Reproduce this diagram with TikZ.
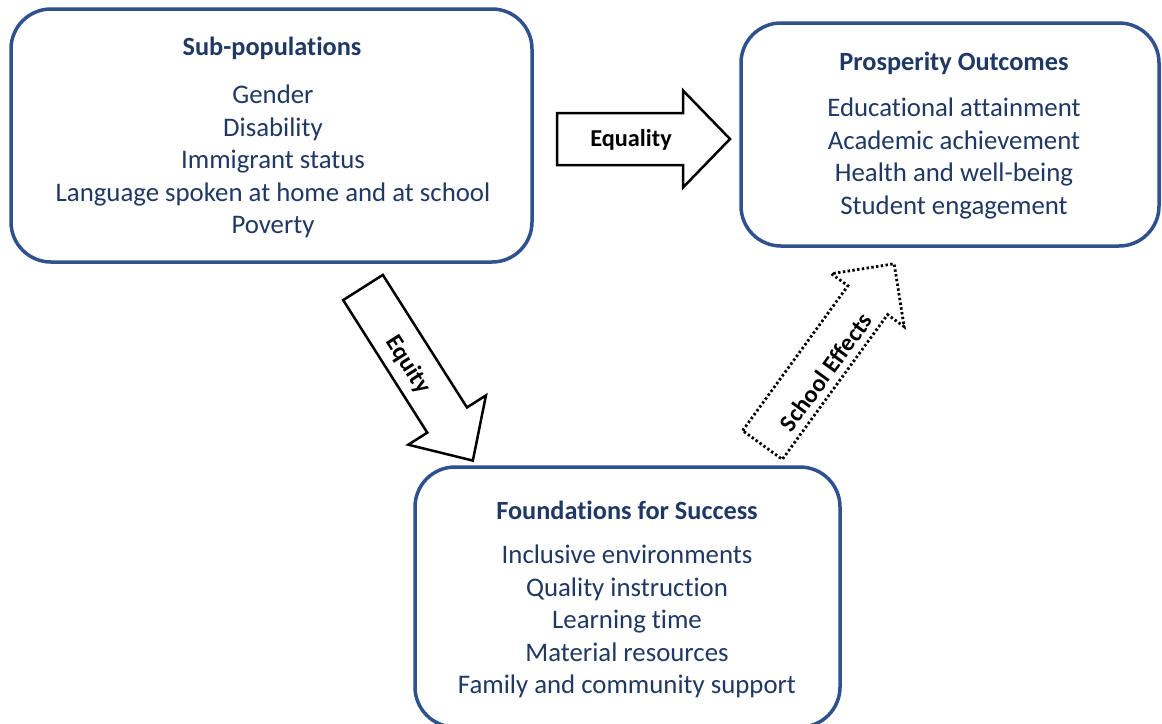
\documentclass[tikz,border=0pt]{standalone}
\usepackage{fontspec}
\setmainfont{Carlito}[RawFeature=-liga]
\definecolor{boxblue}{RGB}{47,82,143}
\definecolor{navy}{RGB}{31,56,100}
\tikzset{
  panel/.style={draw=boxblue, line width=3.5pt, rounded corners=40pt, fill=white, inner sep=0pt},
  heading/.style={text=navy, font=\fontsize{26.3}{30}\selectfont\bfseries, inner sep=0pt},
  items/.style={text=navy, font=\fontsize{26.8}{32.6}\selectfont, align=center, inner sep=0pt},
  blockarrow/.style={draw=black, line width=2.5pt, fill=white, line join=miter},
  dottedarrow/.style={draw=black, line width=2.8pt, fill=white, dash pattern=on 2.4pt off 2.4pt},
  arrowlabel/.style={text=black, font=\fontsize{24.3}{28}\selectfont\bfseries, inner sep=0pt}
}
\newcommand{\arrowpath}[4]{(0,-#1) -- (#3-#4,-#1) -- (#3-#4,-#2) -- (#3,0) -- (#3-#4,#2) -- (#3-#4,#1) -- (0,#1) -- cycle}
\begin{document}
\begin{tikzpicture}[x=1pt,y=-1pt]
\useasboundingbox (0,0) rectangle (1162,723);
\begin{scope}
\clip (0,0) rectangle (1162,723);
% boxes
\node[panel, minimum width=521pt, minimum height=253pt] (b1) at (271.5,135.5) {};
\node[panel, minimum width=418pt, minimum height=223pt] (b2) at (950,134.5) {};
\node[panel, minimum width=425pt, minimum height=260pt] (b3) at (627.5,597) {};
\end{scope}
% texts
\node[heading] (h1) at (272,48) {Sub-populations};
\node[items] (l1) at (273,161.5) {Gender\\Disability\\Immigrant status\\Language spoken at home and at school\\Poverty};
\node[heading] (h2) at (954,63) {Prosperity Outcomes};
\node[items] (l2) at (954,158.5) {Educational attainment\\Academic achievement\\Health and well-being\\Student engagement};
\node[heading] (h3) at (627,510) {Foundations for Success};
\node[items] (l3) at (627,621.5) {Inclusive environments\\Quality instruction\\Learning time\\Material resources\\Family and community support};
% arrows
\coordinate (eqtail) at (557,139);
\begin{scope}[shift={(eqtail)}]
\draw[blockarrow] \arrowpath{26}{48.5}{173}{47};
\end{scope}
\node[arrowlabel] (eqlab) at (631,140) {Equality};
\coordinate (eytail) at (363,287.5);
\begin{scope}[shift={(eytail)}, rotate=-57.6]
\draw[blockarrow] \arrowpath{23.5}{46}{205}{48};
\end{scope}
\node[arrowlabel, rotate=-57.6] (eylab) at (408,365) {Equity};
\coordinate (setail) at (762.5,445);
\begin{scope}[shift={(setail)}, rotate=54]
\draw[dottedarrow] \arrowpath{24.5}{45}{224}{45};
\end{scope}
\node[arrowlabel, rotate=54] (selab) at (826,372) {School Effects};
\end{tikzpicture}
\end{document}
